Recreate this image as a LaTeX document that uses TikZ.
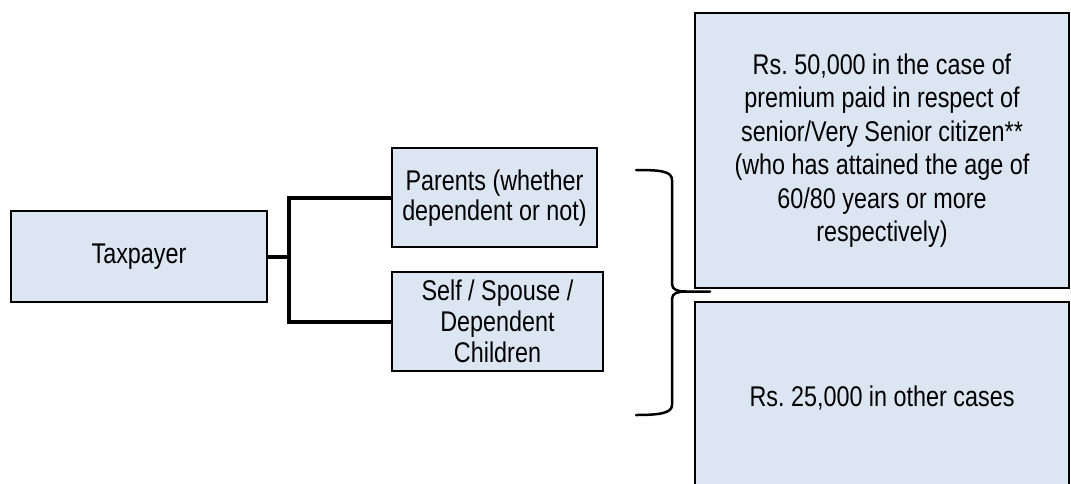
\documentclass[tikz,border=0pt]{standalone}
\usepackage{fontspec}
\setmainfont[FakeStretch=0.82]{Liberation Sans}
\definecolor{boxfill}{HTML}{DCE6F2}
\frenchspacing
\begin{document}
\begin{tikzpicture}[x=1pt,y=-1pt,
  box/.style={draw=black, line width=2pt, fill=boxfill, rectangle, inner sep=0pt,
    align=center, font=\fontsize{28.5}{33.5}\selectfont\frenchspacing},
  link/.style={line width=4pt, line join=miter},
  bracket/.style={line width=2.5pt, line cap=round}]
\useasboundingbox (0,0) rectangle (1071,483);

% nodes of the tree
\node[box, minimum width=256pt, minimum height=91pt] (tax) at (139,256.5) {Taxpayer};
\node[box, minimum width=205pt, minimum height=99pt,
      font=\fontsize{28.5}{30}\selectfont] (par) at (494.5,197.8)
      {Parents (whether\\dependent or not)};
\node[box, minimum width=211pt, minimum height=99pt,
      font=\fontsize{28.5}{31}\selectfont] (self) at (497.5,321.5)
      {Self / Spouse /\\Dependent\\Children};

% limits on the right
\node[box, minimum width=374pt, minimum height=275.5pt] (hi) at (882,150.5)
      {Rs. 50,000 in the case of\\premium paid in respect of\\senior/Very Senior citizen**\\(who has attained the age of\\60/80 years or more\\respectively)};
\node[box, minimum width=374pt, minimum height=192pt] (lo) at (882,398)
      {Rs. 25,000 in other cases};

% branching connectors
\coordinate (fork) at ([xshift=21pt]tax.east);
\draw[link] (tax.east) -- (fork) |- (par.west);
\draw[link] (fork) |- (self.west);

% curly bracket joining both groups to the limits
\coordinate (tip) at (710,291.5);
\draw[bracket] (636,170) .. controls (660,170) and (672,171) .. (672,180)
  -- (672,284) .. controls (672,290) and (678,291.5) .. (686,291.5) -- (tip);
\draw[bracket] (686,291.5) .. controls (678,291.5) and (672,293) .. (672,299)
  -- (672,405) .. controls (672,413) and (660,415) .. (636,415);
\end{tikzpicture}
\end{document}
